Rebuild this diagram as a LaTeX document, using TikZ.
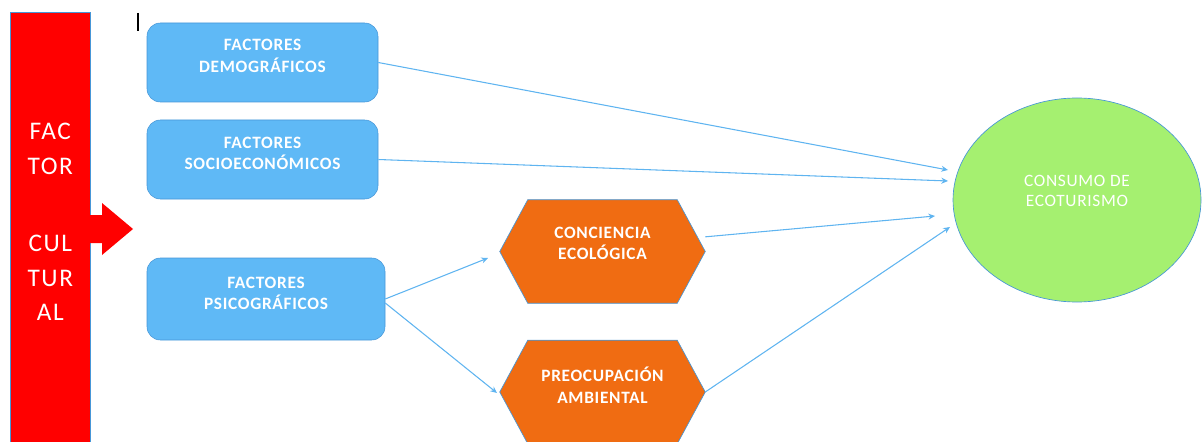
\documentclass[tikz,border=0pt]{standalone}
\usepackage{fontspec}
\setmainfont{Carlito}
\newfontfamily\lblfont[LetterSpace=4]{Carlito}
\newfontfamily\barfont[LetterSpace=6]{Carlito}
\usetikzlibrary{arrows.meta,shapes.geometric}
\definecolor{barred}{RGB}{255,0,0}
\definecolor{boxblue}{RGB}{95,185,246}
\definecolor{boxedge}{RGB}{70,150,215}
\definecolor{hexorange}{RGB}{240,108,18}
\definecolor{ellgreen}{RGB}{165,240,112}
\definecolor{linkblue}{RGB}{95,180,240}
\begin{document}
\begin{tikzpicture}[x=.75pt, y=-.75pt, >={Stealth[length=5pt,width=4.5pt]},
  factor/.style={draw=boxedge, fill=boxblue, rounded corners=10pt, inner sep=0pt, minimum width=173.25pt, minimum height=59.25pt},
  hexbox/.style={inner sep=0pt, minimum width=153.75pt, minimum height=77.25pt},
  hexfill/.style={draw=boxedge, fill=hexorange, line width=.5pt},
  txt/.style={text=white, align=center, font=\lblfont\fontsize{13}{16}\selectfont\bfseries},
  ecotxt/.style={text=white, align=center, font=\lblfont\fontsize{13}{15}\selectfont},
  link/.style={->, draw=linkblue, line width=.8pt}]
\useasboundingbox (0,0) rectangle (1202,442);
\node[draw=boxedge, fill=barred, line width=.5pt, inner sep=0pt, minimum width=60pt, minimum height=322.5pt, anchor=north west] (bar) at (10,12) {};
\node[text=white, align=center, font=\barfont\fontsize{19}{26}\selectfont] (bar-t) at ([yshift=4pt]bar.center) {FAC\\TOR\\[32pt]CUL\\TUR\\AL};
\fill[barred] (89,215)--(102,215)--(102,203)--(133,229)--(102,255)--(102,243)--(89,243)--cycle;
\draw[line width=1pt] (138,13)--(138,31);
\node[factor] (demo) at (262.5,62.5) {};
\node[factor] (socio) at (262.5,159.5) {};
\node[factor, minimum width=178.5pt, minimum height=61.5pt] (psico) at (266,299) {};
\node[hexbox] (conc) at (602.5,251.5) {};
\node[hexbox] (preoc) at (602.5,392) {};
\foreach \n in {conc,preoc}
  \draw[hexfill] (\n.west)--([xshift=21pt]\n.north west)--([xshift=-21pt]\n.north east)--(\n.east)--([xshift=-21pt]\n.south east)--([xshift=21pt]\n.south west)--cycle;
\node[ellipse, draw=boxedge, fill=ellgreen, line width=.5pt, inner sep=0pt, minimum width=186pt, minimum height=153pt] (eco) at (1077,200) {};
\node[txt] (demo-t) at ([yshift=5pt]demo.center) {FACTORES\\DEMOGRÁFICOS};
\node[txt] (socio-t) at ([yshift=4.5pt]socio.center) {FACTORES\\SOCIOECONÓMICOS};
\node[txt] (psico-t) at ([yshift=4pt]psico.center) {FACTORES\\PSICOGRÁFICOS};
\node[txt] (conc-t) at ([yshift=6pt]conc.center) {CONCIENCIA\\ECOLÓGICA};
\node[txt] (preoc-t) at ([yshift=5pt]preoc.center) {PREOCUPACIÓN\\AMBIENTAL};
\node[ecotxt] (eco-t) at ([yshift=7pt]eco.center) {CONSUMO DE\\ECOTURISMO};
\coordinate (e1) at (948,170);
\coordinate (e2) at (948,181);
\coordinate (e3) at (935,216);
\coordinate (e4) at (950,227);
\coordinate (c1) at (488,258);
\coordinate (p1) at (497,393);
\draw[link] (demo.east)--(e1);
\draw[link] (socio.east)--(e2);
\draw[link] ([yshift=11pt]conc.east)--(e3);
\draw[link] (preoc.east)--(e4);
\draw[link] (psico.east)--(c1);
\draw[link] ([yshift=-3pt]psico.east)--(p1);
\end{tikzpicture}
\end{document}
